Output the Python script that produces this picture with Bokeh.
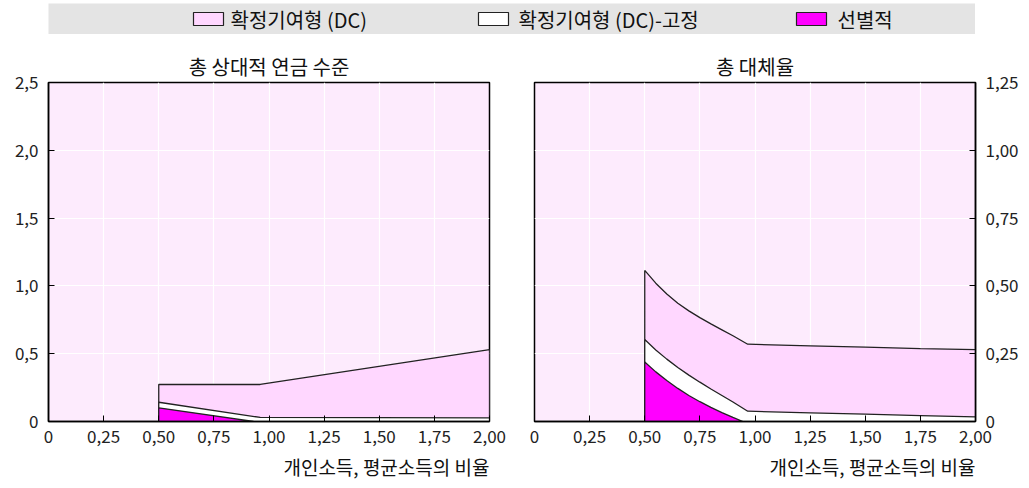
from bokeh.plotting import figure
from bokeh.layouts import column, row
from bokeh.models import ColumnDataSource, FixedTicker, Range1d, Title
from bokeh.embed import file_html
from bokeh.resources import INLINE
from bokeh.core.properties import value

FONT = "Noto Sans CJK KR"

# ---------------- data ----------------
legend_labels = ["확정기여형 (DC)", "확정기여형 (DC)-고정", "선별적"]
legend_colors = ["#FFD7FF", "#FFFFFF", "#FF00FF"]
panel_titles = ["총 상대적 연금 수준", "총 대체율"]
x_axis_title = "개인소득, 평균소득의 비율"

x_ticks = [0, 0.25, 0.5, 0.75, 1.0, 1.25, 1.5, 1.75, 2.0]
x_tick_labels = ["0", "0,25", "0,50", "0,75", "1,00", "1,25", "1,50", "1,75", "2,00"]
left_y_ticks = [0, 0.5, 1.0, 1.5, 2.0, 2.5]
left_y_tick_labels = ["0", "0,5", "1,0", "1,5", "2,0", "2,5"]
right_y_ticks = [0, 0.25, 0.5, 0.75, 1.0, 1.25]
right_y_tick_labels = ["0", "0,25", "0,50", "0,75", "1,00", "1,25"]

# left panel: total relative pension level (upper boundary of each layer)
left_dc_x = [0.5, 0.96, 2.0]
left_dc_y = [0.273, 0.273, 0.53]
left_fixed_x = [0.5, 0.96, 2.0]
left_fixed_y = [0.142, 0.030, 0.027]
left_target_x = [0.5, 0.93]
left_target_y = [0.101, 0.0]

# right panel: total replacement rate (upper boundary of each layer)
right_dc_x = [0.5, 0.55, 0.6, 0.65, 0.7, 0.75, 0.8, 0.85, 0.9, 0.967, 1.25, 1.5, 1.75, 2.0]
right_dc_y = [0.557, 0.510, 0.470, 0.436, 0.408, 0.383, 0.360, 0.338, 0.316, 0.285,
              0.279, 0.274, 0.269, 0.265]
right_fixed_x = [0.5, 0.55, 0.6, 0.65, 0.7, 0.75, 0.8, 0.85, 0.9, 0.967, 1.25, 1.5, 1.75, 2.0]
right_fixed_y = [0.302, 0.264, 0.230, 0.199, 0.171, 0.145, 0.120, 0.096, 0.072, 0.038,
                 0.032, 0.027, 0.022, 0.017]
right_target_x = [0.5, 0.55, 0.6, 0.65, 0.7, 0.75, 0.8, 0.85, 0.9, 0.945]
right_target_y = [0.219, 0.183, 0.151, 0.122, 0.096, 0.073, 0.052, 0.033, 0.015, 0.0]

BG = "#FDEBFD"
BAND = "#E4E4E4"
EDGE = "#222222"


def add_layer(p, xs, ys, color):
    px = [xs[0]] + list(xs) + [xs[-1]]
    py = [0] + list(ys) + [0]
    src = ColumnDataSource(dict(x=px, y=py))
    p.patch("x", "y", source=src, fill_color=color, line_color=EDGE, line_width=1.3)


def make_panel(title, y_max, yticks, ylabels, side, layers, mb_left, mb_right):
    p = figure(frame_width=441, frame_height=339,
               x_range=Range1d(0, 2), y_range=Range1d(0, y_max),
               y_axis_location=side, title=title,
               output_backend="svg", toolbar_location=None,
               min_border_left=mb_left, min_border_right=mb_right,
               min_border_top=48, min_border_bottom=60,
               background_fill_color=BG, border_fill_color="white")
    p.title.align = "center"
    p.title.text_font = FONT
    p.title.text_font_size = "20px"
    p.title.text_font_style = "normal"
    p.title.text_color = "#111111"
    p.title.standoff = 4

    for xs, ys, c in layers:
        add_layer(p, xs, ys, c)

    p.xaxis.ticker = FixedTicker(ticks=x_ticks)
    p.xaxis.major_label_overrides = {t: l for t, l in zip(x_ticks, x_tick_labels)}
    p.yaxis.ticker = FixedTicker(ticks=yticks)
    p.yaxis.major_label_overrides = {t: l for t, l in zip(yticks, ylabels)}
    for ax in p.axis:
        ax.major_tick_in = 6
        ax.major_tick_out = 0
        ax.minor_tick_line_color = None
        ax.major_tick_line_color = "black"
        ax.axis_line_color = "black"
        ax.axis_line_width = 1.5
        ax.major_label_text_font = FONT
        ax.major_label_text_font_size = "17px"
        ax.major_label_text_color = "#222222"
        ax.major_label_standoff = 10
    p.xaxis.major_label_standoff = 8
    p.grid.grid_line_color = "white"
    p.grid.grid_line_width = 1.2
    p.outline_line_color = "black"
    p.outline_line_width = 1.5
    p.outline_line_alpha = 1.0

    t = Title(text=x_axis_title, align="right", text_font=FONT,
              text_font_size="19px", text_font_style="normal", text_color="#111111")
    p.add_layout(t, "below")
    return p


left = make_panel(panel_titles[0], 2.5, left_y_ticks, left_y_tick_labels, "left",
                  [(left_dc_x, left_dc_y, legend_colors[0]),
                   (left_fixed_x, left_fixed_y, legend_colors[1]),
                   (left_target_x, left_target_y, legend_colors[2])],
                  48, 20)
right = make_panel(panel_titles[1], 1.25, right_y_ticks, right_y_tick_labels, "right",
                   [(right_dc_x, right_dc_y, legend_colors[0]),
                    (right_fixed_x, right_fixed_y, legend_colors[1]),
                    (right_target_x, right_target_y, legend_colors[2])],
                   25, 45)

# legend band (positions in page pixels of the band)
sw_x = [208, 493, 811]
tx_x = [230, 518, 837]
leg = figure(frame_width=927, frame_height=31,
             x_range=Range1d(48, 975), y_range=Range1d(0, 31),
             output_backend="svg", toolbar_location=None,
             min_border_left=48, min_border_right=0, min_border_top=3, min_border_bottom=0,
             background_fill_color=BAND, border_fill_color="white")
leg.axis.visible = False
leg.grid.visible = False
leg.outline_line_color = None
leg.rect(x=sw_x, y=[15.5] * 3, width=30, height=13, fill_color=legend_colors,
         line_color=EDGE, line_width=1.2)
leg.text(x=tx_x, y=[15.5] * 3, text=legend_labels, text_baseline="middle",
         text_font=value(FONT), text_font_size=value("20px"), text_color="#111111")

layout = column(leg, row(left, right, spacing=0), spacing=0)
open("out.html", "w").write(file_html(layout, INLINE))
